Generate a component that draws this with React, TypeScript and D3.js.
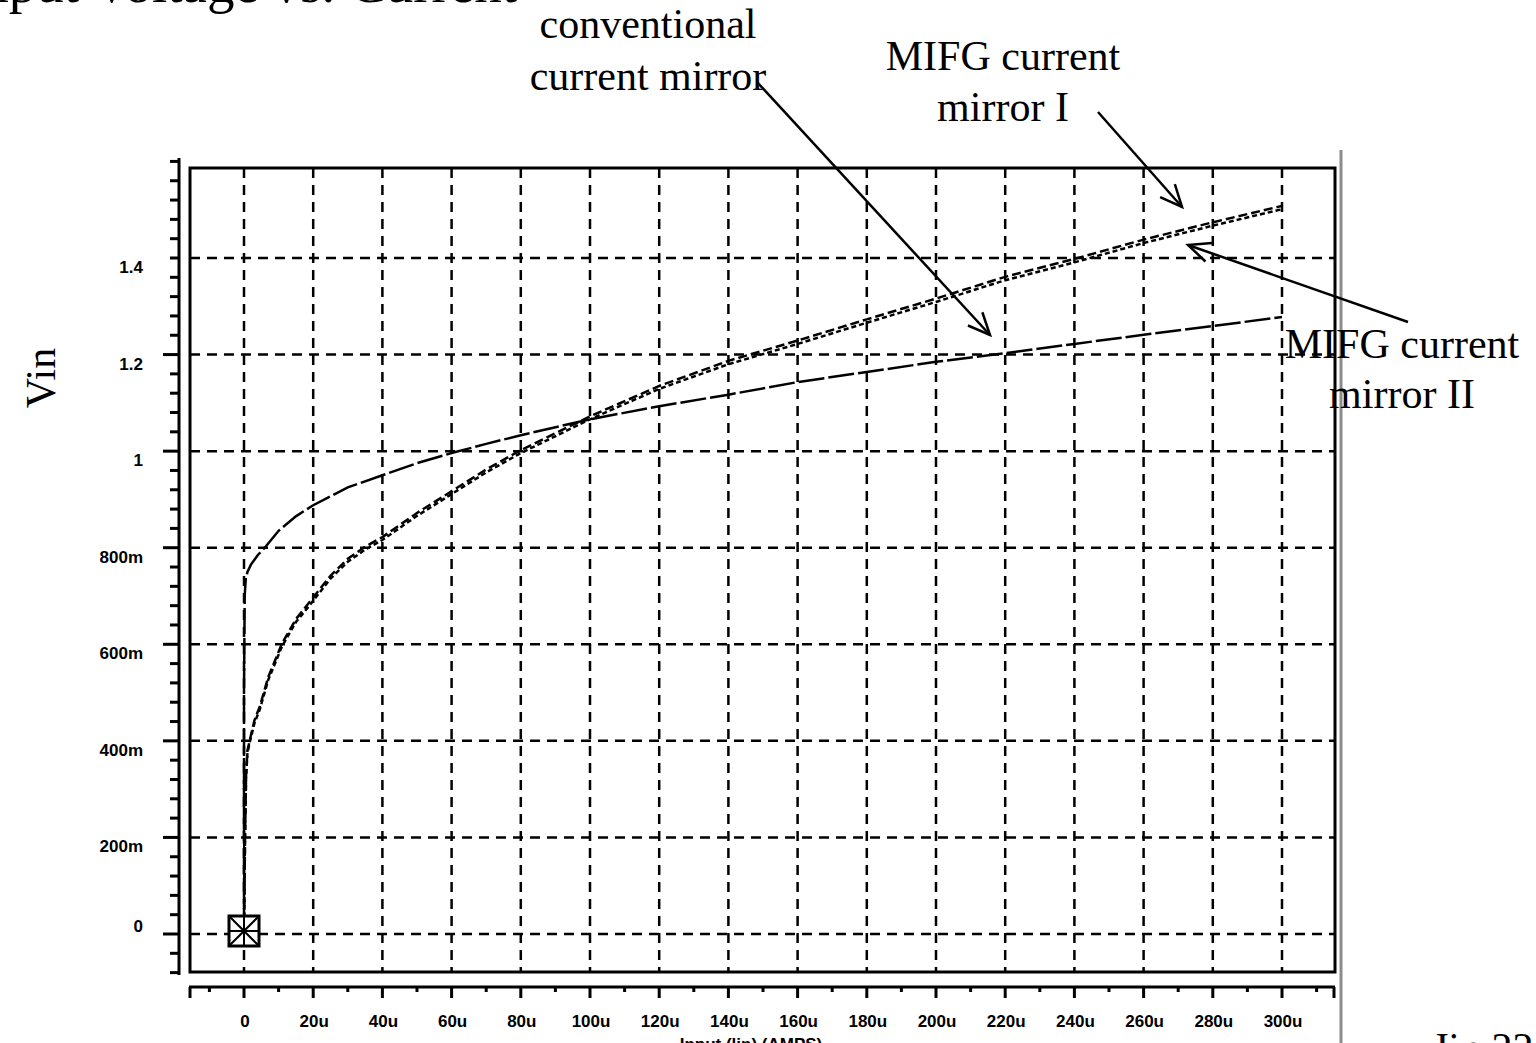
import React from "react";
import * as d3 from "d3";

// ---------- data (currents in µA, voltages in V) ----------
const convCurrent = [0, 0, 0.2, 0.5, 1, 2, 4, 6, 10, 15, 20, 30, 40, 50, 60, 70, 80, 100, 120, 140, 160, 180, 200, 220, 240, 260, 280, 300];
const convVin = [0, 0.5, 0.7, 0.735, 0.75, 0.765, 0.785, 0.8, 0.835, 0.865, 0.888, 0.925, 0.95, 0.975, 0.996, 1.015, 1.033, 1.066, 1.093, 1.117, 1.143, 1.164, 1.185, 1.203, 1.222, 1.241, 1.259, 1.278];

const mifgCurrent = [0, 0.3, 0.6, 1, 1.7, 3, 4.6, 7, 11, 15, 19, 25, 30, 35, 40, 50, 60, 70, 80, 100, 120, 140, 160, 180, 200, 220, 240, 260, 280, 300];
const mifg1Vin = [0, 0.2, 0.33, 0.38, 0.402, 0.442, 0.472, 0.532, 0.602, 0.652, 0.688, 0.742, 0.777, 0.802, 0.822, 0.872, 0.917, 0.962, 1.002, 1.072, 1.135, 1.187, 1.229, 1.273, 1.316, 1.361, 1.398, 1.438, 1.474, 1.508];
const mifg2Vin = [0, 0.2, 0.325, 0.375, 0.398, 0.436, 0.466, 0.526, 0.596, 0.646, 0.681, 0.736, 0.771, 0.796, 0.816, 0.866, 0.911, 0.956, 0.996, 1.066, 1.129, 1.18, 1.222, 1.266, 1.309, 1.354, 1.391, 1.431, 1.467, 1.501];

const xTickValues = [0, 20, 40, 60, 80, 100, 120, 140, 160, 180, 200, 220, 240, 260, 280, 300];
const xTickLabels = ["0", "20u", "40u", "60u", "80u", "100u", "120u", "140u", "160u", "180u", "200u", "220u", "240u", "260u", "280u", "300u"];
const yTickValues = [0, 0.2, 0.4, 0.6, 0.8, 1.0, 1.2, 1.4];
const yTickLabels = ["0", "200m", "400m", "600m", "800m", "1", "1.2", "1.4"];

const titleText = "Input Voltage vs. Current";
const yAxisTitle = "Vin";
const xAxisTitle = "Input (lin) (AMPS)";
const footerText = "Jin 22";

export default function App() {
  const W = 1536, H = 1043;
  const frame = { left: 190, top: 168, right: 1335, bottom: 972 };
  const x = d3.scaleLinear().domain([0, 300]).range([244, 1282]);
  const y = d3.scaleLinear().domain([0, 1.4]).range([934, 258]);

  const conv = convCurrent.map((c, i) => [c, convVin[i]] as [number, number]);
  const m1 = mifgCurrent.map((c, i) => [c, mifg1Vin[i]] as [number, number]);
  const m2 = mifgCurrent.map((c, i) => [c, mifg2Vin[i]] as [number, number]);
  const linePath = (pts: [number, number][]) =>
    d3.line<[number, number]>().x(d => x(d[0])).y(d => y(d[1])).curve(d3.curveLinear)(pts) as string;

  const yMinor = d3.range(-2, 41).map(k => k * 0.04);
  const xMinor = d3.range(-1, 32).map(k => k * 10);

  const arrow = (x1: number, y1: number, x2: number, y2: number, key: string) => {
    const ang = Math.atan2(y2 - y1, x2 - x1);
    const L = 24, a = 0.42;
    const p1 = [x2 - L * Math.cos(ang - a), y2 - L * Math.sin(ang - a)];
    const p2 = [x2 - L * Math.cos(ang + a), y2 - L * Math.sin(ang + a)];
    return (
      <g key={key} stroke="#000" strokeWidth={2.5} fill="none">
        <line x1={x1} y1={y1} x2={x2} y2={y2} />
        <polyline points={`${p1[0]},${p1[1]} ${x2},${y2} ${p2[0]},${p2[1]}`} />
      </g>
    );
  };

  const tickFont = { fontFamily: "Liberation Sans, Arial, sans-serif", fontSize: 17, fontWeight: 700 as const };
  const serif = { fontFamily: "Liberation Serif, Times New Roman, serif", fontSize: 42 };

  const ox = x(0), oy = y(0);

  return (
    <svg width={W} height={H} style={{ position: "absolute", left: 0, top: 0, background: "#fff" }}>
      <rect x={0} y={0} width={W} height={H} fill="#fff" />
      {/* title (cut off at top, as in the reference) */}
      <text x={-37} y={2} {...serif} fontSize={55}>{titleText}</text>

      {/* grid */}
      <g stroke="#000" strokeWidth={2.5} strokeDasharray="10,7">
        {xTickValues.map(v => (
          <line key={"gx" + v} x1={x(v)} x2={x(v)} y1={frame.top} y2={frame.bottom} />
        ))}
        {yTickValues.map(v => (
          <line key={"gy" + v} x1={frame.left} x2={frame.right} y1={y(v)} y2={y(v)} />
        ))}
      </g>

      {/* frame */}
      <rect x={frame.left} y={frame.top} width={frame.right - frame.left} height={frame.bottom - frame.top} fill="none" stroke="#000" strokeWidth={3} />

      {/* y axis (separate) */}
      <g stroke="#000" strokeWidth={3}>
        <line x1={179} x2={179} y1={158} y2={975} />
        {yMinor.map(v => {
          const major = Math.abs(v * 5 - Math.round(v * 5)) < 1e-6 && v >= 0 && v <= 1.4;
          return <line key={"yt" + v} x1={major ? 163 : 170} x2={179} y1={y(v)} y2={y(v)} />;
        })}
      </g>
      <g {...tickFont} textAnchor="end">
        {yTickValues.map((v, i) => (
          <text key={"yl" + v} x={143} y={y(v) + (v === 0 ? -2 : 15)}>{yTickLabels[i]}</text>
        ))}
      </g>

      {/* x axis (separate) */}
      <g stroke="#000" strokeWidth={3}>
        <line x1={189} x2={1335} y1={987} y2={987} />
        <line x1={190} x2={190} y1={987} y2={998} />
        <line x1={1334} x2={1334} y1={987} y2={998} />
        {xMinor.map(v => {
          const major = v % 20 === 0 && v >= 0 && v <= 300;
          return <line key={"xt" + v} x1={x(v)} x2={x(v)} y1={987} y2={major ? 998 : 992} />;
        })}
      </g>
      <g {...tickFont} textAnchor="middle">
        {xTickValues.map((v, i) => (
          <text key={"xl" + v} x={x(v) + 1} y={1027}>{xTickLabels[i]}</text>
        ))}
      </g>
      <text x={751} y={1050} {...tickFont} textAnchor="middle">{xAxisTitle}</text>

      {/* curves */}
      <g fill="none" stroke="#000">
        <line x1={ox} x2={ox} y1={oy} y2={y(0.2)} strokeWidth={2} />
        <path d={linePath(m1)} strokeWidth={2.5} strokeDasharray="9,4" />
        <path d={linePath(m2)} strokeWidth={2.5} strokeDasharray="5,3" />
        <path d={linePath(conv)} strokeWidth={2.5} strokeDasharray="26,4" />
      </g>

      {/* origin marker */}
      <g stroke="#000" fill="none" strokeWidth={3}>
        <rect x={ox - 15} y={oy - 18} width={30} height={30} fill="#fff" />
        <line x1={ox - 15} y1={oy - 18} x2={ox + 15} y2={oy + 12} strokeWidth={2} />
        <line x1={ox + 15} y1={oy - 18} x2={ox - 15} y2={oy + 12} strokeWidth={2} />
        <line x1={ox - 15} y1={oy - 3} x2={ox + 15} y2={oy - 3} strokeWidth={2} />
        <line x1={ox} y1={oy - 18} x2={ox} y2={oy + 12} strokeWidth={2} />
      </g>

      {/* gray separator */}
      <line x1={1341} x2={1341} y1={150} y2={H} stroke="#8c8c8c" strokeWidth={3} />

      {/* y axis title */}
      <text {...serif} textAnchor="middle" transform="translate(55,378) rotate(-90)">{yAxisTitle}</text>

      {/* annotations */}
      <g {...serif} textAnchor="middle">
        <text x={648} y={38}>conventional</text>
        <text x={648} y={90}>current mirror</text>
        <text x={1003} y={70}>MIFG current</text>
        <text x={1003} y={121}>mirror I</text>
        <text x={1402} y={358}>MIFG current</text>
        <text x={1402} y={408}>mirror II</text>
      </g>
      {arrow(757, 82, 990, 335, "a1")}
      {arrow(1098, 112, 1182, 207, "a2")}
      {arrow(1408, 322, 1188, 245, "a3")}

      <text x={1432} y={1062} {...serif}>{footerText}</text>
    </svg>
  );
}
